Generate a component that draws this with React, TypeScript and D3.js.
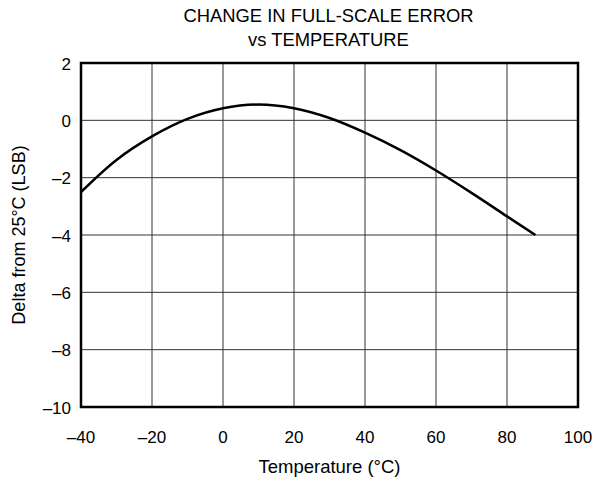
import { useRef, useEffect } from "react";
import * as d3 from "d3";

const temps = [-40, -30, -20, -10, 0, 10, 20, 30, 40, 50, 60, 70, 80, 88];
const deltas = [-2.5, -1.38, -0.56, 0.05, 0.42, 0.55, 0.42, 0.08, -0.43, -1.04, -1.75, -2.53, -3.35, -4.0];
const xTicks = [-40, -20, 0, 20, 40, 60, 80, 100];
const yTicks = [2, 0, -2, -4, -6, -8, -10];

const fmt = (d: number) => (d < 0 ? `\u2013${Math.abs(d)}` : `${d}`);

export default function App() {
  const svgRef = useRef<SVGSVGElement>(null);
  const width = 597;
  const height = 483;
  const margin = { top: 63, right: 19, bottom: 76, left: 81 };
  const innerW = width - margin.left - margin.right;
  const innerH = height - margin.top - margin.bottom;

  useEffect(() => {
    if (!svgRef.current) return;
    const svg = d3.select(svgRef.current);
    svg.selectAll("*").remove();
    const font = "'Liberation Sans', Arial, sans-serif";

    const g = svg.append("g").attr("transform", `translate(${margin.left},${margin.top})`);

    const x = d3.scaleLinear().domain([-40, 100]).range([0, innerW]);
    const y = d3.scaleLinear().domain([-10, 2]).range([innerH, 0]);

    // Grid
    g.selectAll(".vgrid")
      .data(xTicks)
      .join("line")
      .attr("x1", d => x(d)).attr("x2", d => x(d))
      .attr("y1", 0).attr("y2", innerH)
      .attr("stroke", "#333").attr("stroke-width", 1);
    g.selectAll(".hgrid")
      .data(yTicks)
      .join("line")
      .attr("x1", 0).attr("x2", innerW)
      .attr("y1", d => y(d)).attr("y2", d => y(d))
      .attr("stroke", "#333").attr("stroke-width", 1);

    // Curve
    const data = temps.map((t, i) => ({ t, v: deltas[i] }));
    const line = d3.line<{ t: number; v: number }>()
      .x(d => x(d.t))
      .y(d => y(d.v))
      .curve(d3.curveCatmullRom.alpha(0.5));
    g.append("path")
      .datum(data)
      .attr("fill", "none")
      .attr("stroke", "#000")
      .attr("stroke-width", 2.5)
      .attr("d", line);

    // Frame
    g.append("rect")
      .attr("x", 0).attr("y", 0)
      .attr("width", innerW).attr("height", innerH)
      .attr("fill", "none").attr("stroke", "#000").attr("stroke-width", 2.5);

    // Tick labels
    g.selectAll(".xt")
      .data(xTicks)
      .join("text")
      .attr("x", d => x(d))
      .attr("y", innerH + 35.5)
      .attr("text-anchor", "middle")
      .attr("font-family", font).attr("font-size", 17)
      .text(d => fmt(d));
    g.selectAll(".yt")
      .data(yTicks)
      .join("text")
      .attr("x", -10)
      .attr("y", d => y(d) + 6.5)
      .attr("text-anchor", "end")
      .attr("font-family", font).attr("font-size", 17)
      .text(d => fmt(d));

    // Axis labels
    svg.append("text")
      .attr("x", margin.left + innerW / 2)
      .attr("y", 473)
      .attr("text-anchor", "middle")
      .attr("font-family", font).attr("font-size", 18.5)
      .text("Temperature (\u00B0C)");
    svg.append("text")
      .attr("transform", `translate(25,${margin.top + innerH / 2}) rotate(-90)`)
      .attr("text-anchor", "middle")
      .attr("font-family", font).attr("font-size", 18)
      .text("Delta from 25\u00B0C (LSB)");

    // Title
    svg.append("text")
      .attr("x", margin.left + innerW / 2 - 1)
      .attr("y", 22)
      .attr("text-anchor", "middle")
      .attr("font-family", font).attr("font-size", 18.4)
      .text("CHANGE IN FULL-SCALE ERROR");
    svg.append("text")
      .attr("x", margin.left + innerW / 2 - 1)
      .attr("y", 46)
      .attr("text-anchor", "middle")
      .attr("font-family", font).attr("font-size", 18.4)
      .text("vs TEMPERATURE");
  }, []);

  return (
    <svg
      ref={svgRef}
      width={width}
      height={height}
      style={{ position: "absolute", left: 0, top: 0, background: "#fff" }}
    />
  );
}
